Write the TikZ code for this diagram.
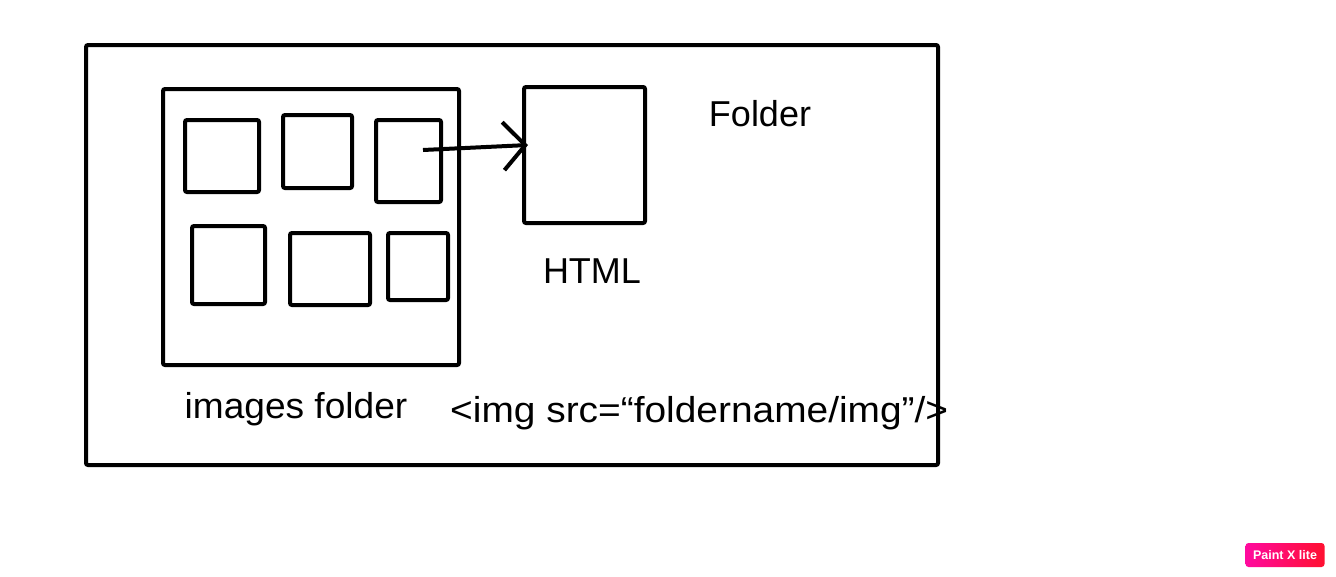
\documentclass[tikz,border=0pt]{standalone}
\usepackage{fontspec}
\setmainfont{Liberation Sans}
\usepackage{tikz}
\usetikzlibrary{arrows.meta}
\usetikzlibrary{positioning}
\definecolor{badgeL}{HTML}{FF0A9E}
\definecolor{badgeR}{HTML}{FF1030}
\tikzset{box/.style = {draw, line width = 4pt, rounded corners = 2pt, inner sep = 0},
  lbl/.style = {font = \fontsize{36}{40}\selectfont, inner sep = 0, anchor = base},
  arr/.style = {line width = 4pt, -{Straight Barb[length = 22pt, width = 48pt, line width = 4pt]}}}

\begin{document}
\begin{tikzpicture}[x = 1pt, y = -1pt]
    \useasboundingbox (0, 0) rectangle (1336, 576);
    \node [box, minimum width = 852, minimum height = 420] (folder) at (512, 255) {};
    \node [box, minimum width = 296, minimum height = 276] (images) at (311, 227) {};
    \node [box, minimum width = 121, minimum height = 136] (html) at (584.5, 155) {};
    \foreach \n/\x/\y/\w/\h in {1/222/156/74/72, 2/317.5/151.5/69/73, 3/408.5/161/65/82,
      4/228.5/265/73/78, 5/330/269/80/72, 6/418/266.5/60/67}{
      \node [box, minimum width = \w, minimum height = \h] (img\n) at (\x, \y) {};
    }
    \coordinate (src) at (423, 150);
    \coordinate (tip) at (528, 145);
    \draw [arr] (src) -- (tip);
    \node [lbl] (folderlbl) at (760, 126) {Folder};
    \node [lbl] (htmllbl) at (592, 283) {HTML};
    \node [lbl] (imageslbl) at (296, 418) {\scalebox{1.03}[1]{images folder}};
    \node [lbl, anchor = base west] (code) at (450, 422) {\scalebox{1.08}[1]{<img src=“foldername/img”/>}};
    \node [rounded corners = 3pt, left color = badgeL, right color = badgeR,
      minimum width = 79, minimum height = 24, inner sep = 0, text = white,
      font = \bfseries\fontsize{12.5}{13}\selectfont] (badge) at (1285, 555) {Paint X lite};
\end{tikzpicture}
\end{document}
